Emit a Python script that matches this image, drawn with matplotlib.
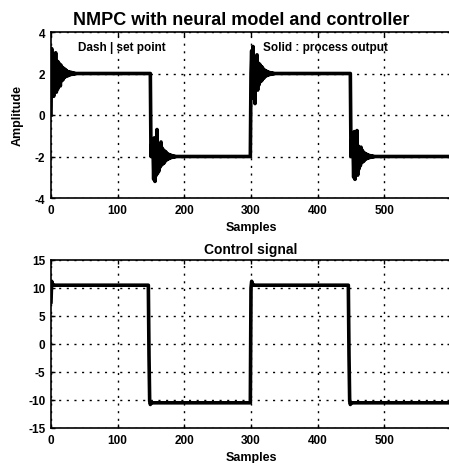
import numpy as np
import matplotlib
matplotlib.use("Agg")
import matplotlib.pyplot as plt

plt.rcParams['font.family'] = ['Liberation Sans', 'DejaVu Sans']
plt.rcParams['font.weight'] = 'bold'

# ---- data ----
n_samples = 600
seg_starts = [0, 150, 300, 450]
setpoint_levels = [2, -2, 2, -2]
output_initial = 0.0
# transient deviations of process output from new set point after each step
trans_up1 = [1.2, -1.0, 0.9, -1.1, 0.8, -0.7, 1.0, -0.9, 0.6, -0.75, 0.55, -0.5,
             0.45, -0.6, 0.4, -0.35, 0.3, -0.3, 0.25, -0.2, 0.2, -0.15, 0.15, -0.12,
             0.1, -0.1, 0.08, -0.07, 0.06, -0.05, 0.05, -0.04, 0.03, -0.03, 0.02, -0.02]
trans_down1 = [0.6, 0.5, 0.4, -1.1, 0.9, -1.2, 0.8, -0.9, 1.3, -0.8, 0.6, -0.7,
               0.5, -0.5, 0.7, -0.4, 0.4, -0.35, 0.3, -0.3, 0.25, -0.2, 0.2, -0.15,
               0.12, -0.12, 0.1, -0.08, 0.07, -0.06, 0.05, -0.04, 0.03, -0.03, 0.02, -0.02]
trans_up2 = [1.1, -0.9, 1.3, -1.2, 0.8, -1.45, 0.7, -0.6, 0.9, -0.8, 0.5, -0.55,
             0.45, -0.4, 0.35, -0.35, 0.3, -0.25, 0.2, -0.2, 0.15, -0.12, 0.12, -0.1,
             0.08, -0.07, 0.06, -0.05, 0.04, -0.04, 0.03, -0.02, 0.02, -0.02]
trans_down2 = [0.8, 0.6, 0.5, -1.0, 1.2, -1.1, 0.9, -0.8, 1.25, -0.9, 0.5, -0.6,
               0.4, -0.45, 0.45, -0.3, 0.3, -0.25, 0.2, -0.2, 0.15, -0.12, 0.12, -0.1,
               0.08, -0.07, 0.06, -0.05, 0.04, -0.04, 0.03, -0.02, 0.02, -0.02]
output_transients = [trans_up1, trans_down1, trans_up2, trans_down2]

ctrl_starts = [0, 147, 300, 447]
ctrl_levels = [10.5, -10.5, 10.5, -10.5]
ctrl_trans = [[7.5, 11.2, 10.8], [-2.0, -10.2, -10.8],
              [10.0, 11.2, 10.8], [-2.0, -10.2, -10.8]]

x_ticks = [0, 100, 200, 300, 400, 500]
y1_ticks = [-4, -2, 0, 2, 4]
y2_ticks = [-15, -10, -5, 0, 5, 10, 15]

# ---- build series ----
k = np.arange(n_samples)
setpoint = np.zeros(n_samples)
output = np.zeros(n_samples)
for i, s in enumerate(seg_starts):
    setpoint[s:] = setpoint_levels[i]
output[:] = setpoint
for i, s in enumerate(seg_starts):
    tr = output_transients[i]
    output[s + 1:s + 1 + len(tr)] += tr
output[0] = output_initial

control = np.zeros(n_samples)
for i, s in enumerate(ctrl_starts):
    control[s:] = ctrl_levels[i]
for i, s in enumerate(ctrl_starts):
    tr = ctrl_trans[i]
    control[s:s + len(tr)] = tr

# ---- figure ----
W, H = 449, 464
fig = plt.figure(figsize=(W / 100, H / 100), dpi=100)
fig.patch.set_facecolor('white')

left = 51 / W
width = 400 / W
ax1 = fig.add_axes([left, 1 - 199 / H, width, (199 - 33) / H])
ax2 = fig.add_axes([left, 1 - 429 / H, width, (429 - 261) / H])

grid_kw = dict(color='black', linestyle=(0, (1.5, 4)), linewidth=1.0)

for ax in (ax1, ax2):
    ax.set_xlim(0, 600)
    ax.set_xticks(x_ticks)
    ax.tick_params(direction='in', length=3, width=1, labelsize=8.5, pad=4,
                   top=True, right=True)
    ax.grid(True, **grid_kw)
    for sp in ax.spines.values():
        sp.set_linewidth(1.2)
    ax.set_xlabel('Samples', fontsize=9, fontweight='bold', labelpad=4)

ax1.plot(k, setpoint, color='black', linestyle='--', linewidth=1.0)
ax1.plot(k, output, color='black', linewidth=2.6)
ax1.set_ylim(-4, 4)
ax1.set_yticks(y1_ticks)
ax1.set_yticklabels([str(v) for v in y1_ticks], fontweight='bold')
ax1.set_xticklabels([str(v) for v in x_ticks], fontweight='bold')
ax1.set_ylabel('Amplitude', fontsize=9, fontweight='bold', labelpad=8)
ax1.set_title('NMPC with neural model and controller', fontsize=13,
              fontweight='bold', pad=6, x=0.475)
ax1.text(40, 3.3, 'Dash | set point', fontsize=8.5, fontweight='bold',
         ha='left', va='center')
ax1.text(318, 3.3, 'Solid : process output', fontsize=8.5, fontweight='bold',
         ha='left', va='center')

ax2.plot(k, control, color='black', linewidth=2.6)
ax2.set_ylim(-15, 15)
ax2.set_yticks(y2_ticks)
ax2.set_yticklabels([str(v) for v in y2_ticks], fontweight='bold')
ax2.set_xticklabels([str(v) for v in x_ticks], fontweight='bold')
ax2.set_title('Control signal', fontsize=10, fontweight='bold', pad=5)

fig.savefig('out.png', dpi=100, facecolor='white')
